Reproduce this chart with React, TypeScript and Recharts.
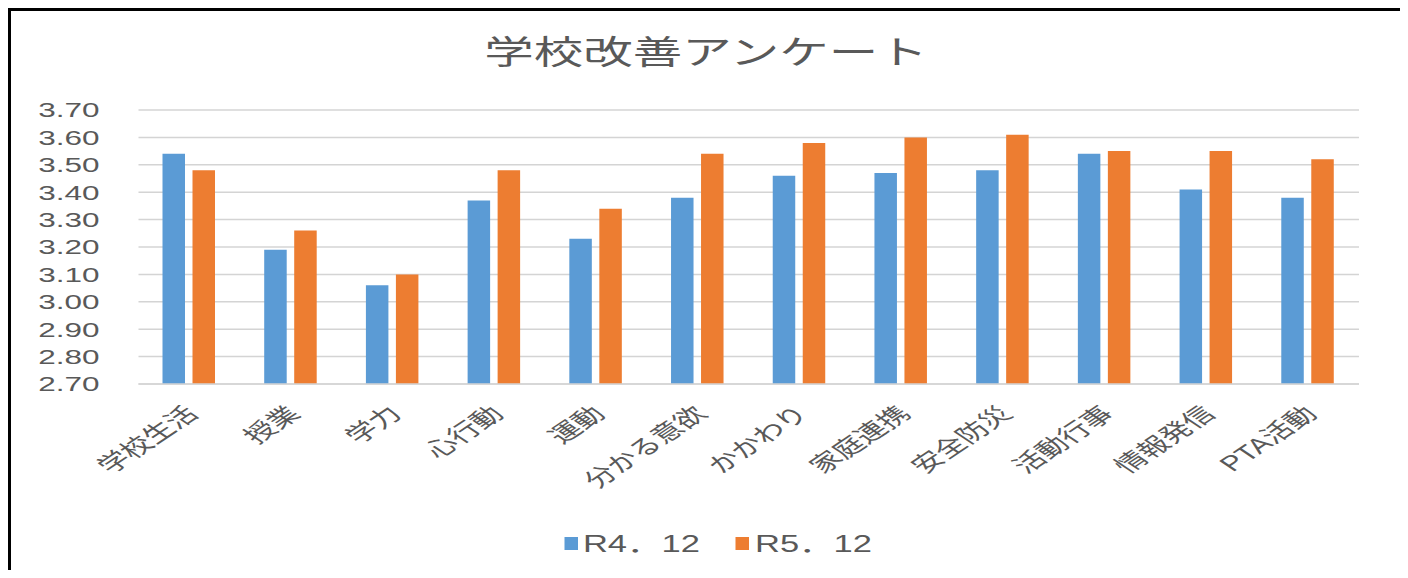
import React from 'react';
import { BarChart, Bar, XAxis, YAxis, CartesianGrid } from 'recharts';

const categories = ['学校生活', '授業', '学力', '心行動', '運動', '分かる意欲', 'かかわり', '家庭連携', '安全防災', '活動行事', '情報発信', 'PTA活動'];
const seriesR4 = [3.54, 3.19, 3.06, 3.37, 3.23, 3.38, 3.46, 3.47, 3.48, 3.54, 3.41, 3.38];
const seriesR5 = [3.48, 3.26, 3.10, 3.48, 3.34, 3.54, 3.58, 3.60, 3.61, 3.55, 3.55, 3.52];
const seriesNames = ['R4．12', 'R5．12'];
const yTicks = [2.7, 2.8, 2.9, 3.0, 3.1, 3.2, 3.3, 3.4, 3.5, 3.6, 3.7];
const title = '学校改善アンケート';

const data = categories.map((c, i) => ({ name: c, r4: seriesR4[i], r5: seriesR5[i] }));

const BLUE = '#5B9BD5';
const ORANGE = '#ED7D31';
const TEXT = '#595959';
const FONT = '"Liberation Sans", "Noto Sans CJK JP", sans-serif';
const S = 1.5;
const topTicks = [94, 206, 316, 427, 534, 642, 750, 859, 966, 1077, 1185, 1293];

const XTick = (props: any) => {
  const { x, y, payload } = props;
  return (
    <g transform={`translate(${x - 4},${y + 12})`}>
      <text transform="rotate(-45)" textAnchor="end" dy="0.75em" fill={TEXT} fontSize={21} fontFamily={FONT}>
        {payload.value}
      </text>
    </g>
  );
};

export default function App() {
  const W = 1396 / S;
  return (
    <div style={{ position: 'relative', margin: -8, width: 1408, height: 578, overflow: 'hidden', background: '#fff' }}>
      {topTicks.map((t) => (
        <div key={t} style={{ position: 'absolute', left: t, top: 0, width: 1, height: 8, background: '#000' }} />
      ))}
      <div style={{ position: 'absolute', left: 0, top: 0, width: 3, height: 6, background: '#1f3fd0' }} />
      <div style={{ position: 'absolute', left: 1401, top: 0, width: 4, height: 6, background: '#1f3fd0' }} />
      <div style={{ position: 'absolute', left: 8, top: 8, width: 1396, height: 640, border: '3px solid #000', borderRightWidth: 2, boxSizing: 'border-box' }} />
      <div style={{ position: 'absolute', left: 8, top: 8, width: W, height: 570, transform: `scaleX(${S})`, transformOrigin: '0 0', fontFamily: FONT }}>
        <div style={{ position: 'absolute', left: 0, top: 27, width: W, textAlign: 'center', fontSize: 33, lineHeight: '36px', color: TEXT, whiteSpace: 'nowrap' }}>
          {title}
        </div>
        <BarChart width={W} height={570} data={data} margin={{ top: 102, right: 30, left: 0, bottom: 94 }} barSize={15} barGap={5}>
          <CartesianGrid vertical={false} stroke="#d4d4d4" strokeWidth={1.5} />
          <XAxis dataKey="name" height={100} interval={0} tickLine={false} axisLine={{ stroke: '#d4d4d4', strokeWidth: 1.5 }} tick={<XTick />} />
          <YAxis width={87} domain={[2.7, 3.7]} ticks={yTicks} interval={0} allowDataOverflow tickLine={false} tickSize={0} tickMargin={26} axisLine={false} tickFormatter={(v: number) => v.toFixed(2)} tick={{ fill: TEXT, fontSize: 21, fontFamily: FONT }} />
          <Bar dataKey="r4" name={seriesNames[0]} fill={BLUE} isAnimationActive={false} />
          <Bar dataKey="r5" name={seriesNames[1]} fill={ORANGE} isAnimationActive={false} />
        </BarChart>
        <div style={{ position: 'absolute', top: 522, left: 0, width: W, height: 30 }}>
          <div style={{ position: 'absolute', left: 371.3, top: 7, width: 8.7, height: 13, background: BLUE }} />
          <div style={{ position: 'absolute', left: 383.3, top: 0, fontSize: 23, lineHeight: '28px', color: TEXT, whiteSpace: 'nowrap' }}>{seriesNames[0]}</div>
          <div style={{ position: 'absolute', left: 485.3, top: 7, width: 8.7, height: 13, background: ORANGE }} />
          <div style={{ position: 'absolute', left: 498, top: 0, fontSize: 23, lineHeight: '28px', color: TEXT, whiteSpace: 'nowrap' }}>{seriesNames[1]}</div>
        </div>
      </div>
    </div>
  );
}
